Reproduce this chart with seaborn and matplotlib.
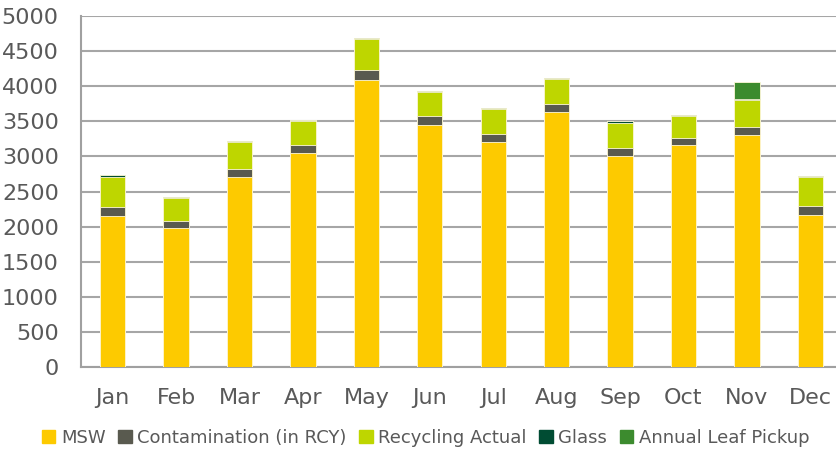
import numpy as np
import pandas as pd
import matplotlib as mpl
mpl.use("Agg")
import matplotlib.pyplot as plt
import seaborn as sns

months = ["Jan", "Feb", "Mar", "Apr", "May", "Jun", "Jul", "Aug", "Sep", "Oct", "Nov", "Dec"]
msw = [2155, 1985, 2707, 3048, 4088, 3452, 3205, 3628, 3010, 3158, 3305, 2161]
contamination = [127, 99, 114, 110, 138, 119, 109, 114, 114, 104, 114, 132]
recycling = [428, 319, 380, 342, 442, 351, 356, 365, 356, 318, 384, 414]
glass = [18, 19, 14, 18, 14, 14, 19, 14, 20, 14, 12, 14]
leaf = [0, 0, 0, 0, 0, 0, 0, 0, 0, 0, 245, 0]

series = ["MSW", "Contamination (in RCY)", "Recycling Actual", "Glass", "Annual Leaf Pickup"]
colors = ["#FDCA00", "#595A4F", "#BED600", "#004C33", "#3C8B2E"]

df = pd.DataFrame({"month": months, "MSW": msw, "Contamination (in RCY)": contamination,
                   "Recycling Actual": recycling, "Glass": glass, "Annual Leaf Pickup": leaf})
cum = df[series].cumsum(axis=1)

sns.set_theme(style="white")
plt.rcParams["font.family"] = ["DejaVu Sans"]
txt = "#595959"

fig = plt.figure(figsize=(8.37, 4.53), dpi=100)
ax = fig.add_axes([0.0968, 0.1898, 0.9092, 0.7749])

# draw cumulative totals from top down so the stacks show through
for name, col in reversed(list(zip(series, colors))):
    sns.barplot(x=df["month"], y=cum[name], color=col, width=0.4, saturation=1,
                edgecolor="#FFF8D8", linewidth=0.6, ax=ax, zorder=3)

ax.set_ylim(0, 5000)
ax.set_xlim(-0.5, 11.5)
ax.set_yticks(np.arange(0, 5001, 500))
ax.yaxis.grid(True, color="#A6A6A6", linewidth=1.5, zorder=0)
ax.set_axisbelow(True)
ax.set_xlabel("")
ax.set_ylabel("")

for s in ["top", "right"]:
    ax.spines[s].set_visible(False)
for s in ["left", "bottom"]:
    ax.spines[s].set_color("#A0A0A0")
    ax.spines[s].set_linewidth(1.5)

ax.set_xticks(np.arange(12))
ax.set_xticklabels(months)
ax.set_xticks(np.arange(-0.5, 12, 1), minor=True)
ax.tick_params(axis="x", which="major", length=0, pad=15, labelsize=16, labelcolor=txt)
ax.tick_params(axis="x", which="minor", length=7, width=1.5, color="#A0A0A0", direction="out")
ax.tick_params(axis="y", length=7, width=1.5, color="#A0A0A0", direction="out", pad=9,
               labelsize=16, labelcolor=txt)

handles = [mpl.patches.Patch(color=c, label=n) for n, c in zip(series, colors)]
fig.legend(handles=handles, loc="center left", bbox_to_anchor=(0.05, 0.033), ncol=5,
           frameon=False, fontsize=13, labelcolor=txt, handlelength=0.75, handleheight=0.75,
           handletextpad=0.3, columnspacing=0.7, borderaxespad=0, borderpad=0)

fig.savefig("out.png", dpi=100)
